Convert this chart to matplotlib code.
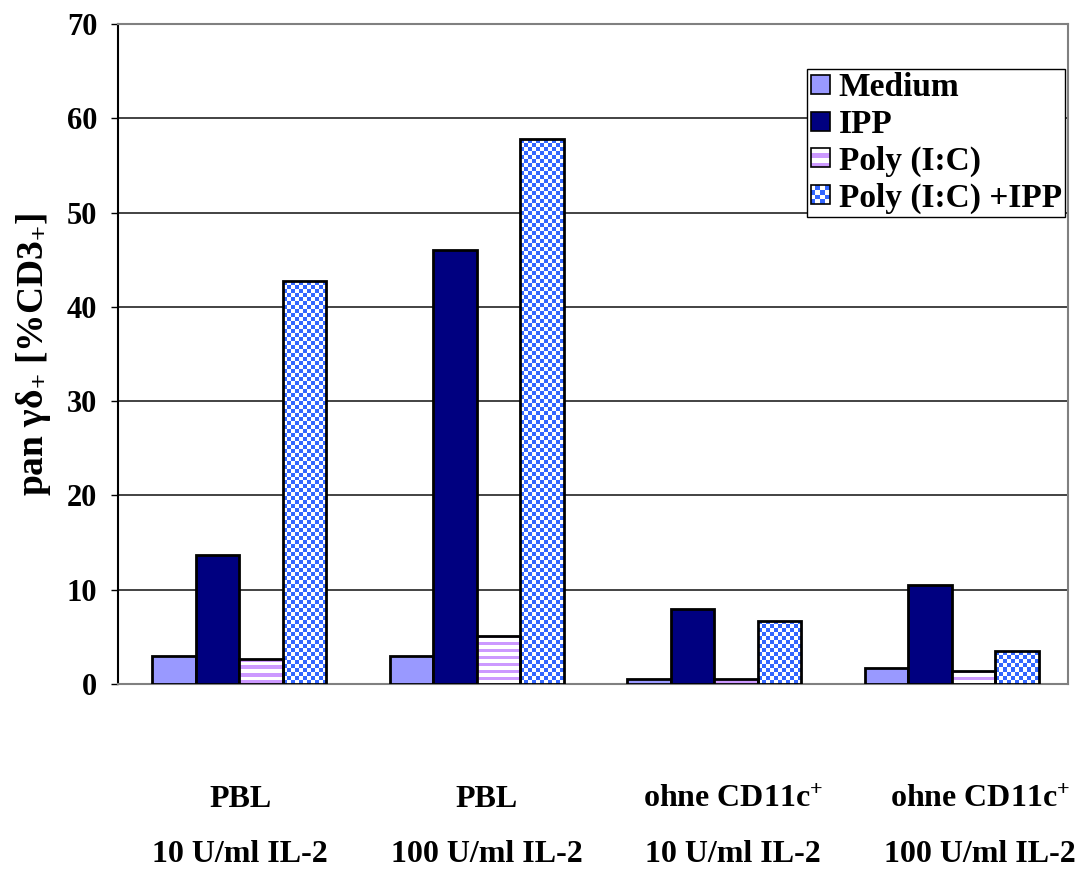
import numpy as np
import matplotlib
matplotlib.use("Agg")
import matplotlib.pyplot as plt
from matplotlib.patches import Rectangle, Patch
from matplotlib.legend_handler import HandlerBase
import matplotlib.transforms as mtransforms

plt.rcParams['font.family'] = ['Liberation Serif', 'DejaVu Serif']
plt.rcParams['font.weight'] = 'bold'
plt.rcParams['mathtext.fontset'] = 'custom'
plt.rcParams['mathtext.rm'] = 'Liberation Serif:bold'
plt.rcParams['mathtext.it'] = 'Liberation Serif:bold'
plt.rcParams['mathtext.bf'] = 'Liberation Serif:bold'
plt.rcParams['mathtext.default'] = 'rm'

# ---- data ----
cat_line1 = ['PBL', 'PBL', r'ohne CD11c$^{+}$', r'ohne CD11c$^{+}$']
cat_line2 = ['10 U/ml IL-2', '100 U/ml IL-2', '10 U/ml IL-2', '100 U/ml IL-2']
series = ['Medium', 'IPP', 'Poly (I:C)', 'Poly (I:C) +IPP']
medium = [3.0, 3.0, 0.5, 1.7]
ipp = [13.7, 46.0, 8.0, 10.5]
poly = [2.7, 5.1, 0.5, 1.4]
poly_ipp = [42.7, 57.8, 6.7, 3.5]
yticks = [0, 10, 20, 30, 40, 50, 60, 70]

values = [medium, ipp, poly, poly_ipp]
styles = ['solid_light', 'solid_dark', 'stripes', 'checker']
MED_C = '#9999ff'
IPP_C = '#000080'
POLY_C = '#cc99ff'
CHK_C = '#3366ff'

W, H = 1075, 869
fig = plt.figure(figsize=(W / 100, H / 100), dpi=100)
ax_l, ax_r, ax_t, ax_b = 118, 1068, 24, 684
ax = fig.add_axes([ax_l / W, (H - ax_b) / H, (ax_r - ax_l) / W, (ax_b - ax_t) / H])

n = len(cat_line1)
x = np.arange(n)
bw = 0.183
offsets = (np.arange(4) - 1.5) * bw + 0.01

px_per_unit = (ax_b - ax_t) / 70.0
px_per_x = (ax_r - ax_l) / 4.0


def pattern_image(kind, w_px, h_px):
    if kind == 'checker':
        cell = 4
        nr = max(1, int(round(h_px / cell)))
        nc = max(1, int(round(w_px / cell)))
        img = np.ones((nr, nc, 3))
        rgb = np.array(matplotlib.colors.to_rgb(CHK_C))
        rr, cc = np.indices((nr, nc))
        img[(rr + cc) % 2 == 0] = rgb
    else:
        rgb = np.array(matplotlib.colors.to_rgb(POLY_C))
        nr2 = max(1, int(round(h_px / 3.5)))
        img = np.ones((nr2, 1, 3))
        rr = np.arange(nr2)
        img[rr % 2 == 0, 0] = rgb
    return img


for si, (vals, st) in enumerate(zip(values, styles)):
    for ci in range(n):
        v = vals[ci]
        xc = x[ci] + offsets[si]
        if st == 'solid_light':
            ax.bar(xc, v, width=bw, color=MED_C, edgecolor='black', linewidth=2, zorder=3)
        elif st == 'solid_dark':
            ax.bar(xc, v, width=bw, color=IPP_C, edgecolor='black', linewidth=2, zorder=3)
        else:
            b = ax.bar(xc, v, width=bw, facecolor='none', edgecolor='black', linewidth=2, zorder=4)[0]
            img = pattern_image(st, bw * px_per_x, v * px_per_unit)
            im = ax.imshow(img, extent=(xc - bw / 2, xc + bw / 2, 0, v), origin='upper',
                           aspect='auto', interpolation='nearest', zorder=3)
            im.set_clip_path(b)

ax.set_xlim(-0.5, 3.5)
ax.set_ylim(0, 70)
ax.set_yticks(yticks)
ax.set_yticklabels([str(t) for t in yticks], fontsize=22, fontweight='bold')
ax.tick_params(axis='y', length=5, width=1, pad=10, direction='out')
ax.set_xticks([])
ax.yaxis.grid(True, color='#222222', linewidth=1.2, zorder=0)
ax.set_axisbelow(True)
ax.spines['left'].set_color('black')
ax.spines['left'].set_linewidth(1.5)
for s in ['right', 'bottom', 'top']:
    ax.spines[s].set_color('#808080')
    ax.spines[s].set_linewidth(1.5)

ax.set_ylabel(r'pan γδ$_{+}$ [%CD3$_{+}$]', fontsize=27, fontweight='bold', labelpad=10)

trans = mtransforms.blended_transform_factory(ax.transData, fig.transFigure)
label_x = x * 1.038 + 0.014
for ci in range(n):
    ax.text(label_x[ci], 1 - 807 / H, cat_line1[ci], transform=trans, ha='center', va='baseline',
            fontsize=23, fontweight='bold', clip_on=False)
    ax.text(label_x[ci], 1 - 862 / H, cat_line2[ci], transform=trans, ha='center', va='baseline',
            fontsize=23, fontweight='bold', clip_on=False)


class PatternHandler(HandlerBase):
    def __init__(self, kind):
        super().__init__()
        self.kind = kind

    def create_artists(self, legend, orig_handle, xdescent, ydescent, width, height, fontsize, trans):
        arts = []
        s = min(width, height)
        x0 = -xdescent + (width - s) / 2
        y0 = -ydescent + (height - s) / 2
        if self.kind == 'solid':
            arts.append(Rectangle((x0, y0), s, s, facecolor=orig_handle.get_facecolor(),
                                  edgecolor='black', linewidth=1.2, transform=trans))
        elif self.kind == 'stripes':
            arts.append(Rectangle((x0, y0), s, s, facecolor='white', edgecolor='none', transform=trans))
            k = 4
            for i in range(k):
                if i % 2 == 0:
                    arts.append(Rectangle((x0, y0 + i * s / k), s, s / k, facecolor=POLY_C,
                                          edgecolor='none', transform=trans))
            arts.append(Rectangle((x0, y0), s, s, facecolor='none', edgecolor='black',
                                  linewidth=1.2, transform=trans))
        else:
            k = 4
            arts.append(Rectangle((x0, y0), s, s, facecolor='white', edgecolor='none', transform=trans))
            for i in range(k):
                for j in range(k):
                    if (i + j) % 2 == 0:
                        arts.append(Rectangle((x0 + i * s / k, y0 + j * s / k), s / k, s / k,
                                              facecolor=CHK_C, edgecolor='none', transform=trans))
            arts.append(Rectangle((x0, y0), s, s, facecolor='none', edgecolor='black',
                                  linewidth=1.2, transform=trans))
        return arts


h_med = Patch(facecolor=MED_C)
h_ipp = Patch(facecolor=IPP_C)
h_poly = Patch(facecolor=POLY_C)
h_chk = Patch(facecolor=CHK_C)
leg = ax.legend([h_med, h_ipp, h_poly, h_chk], series, loc='upper right',
                bbox_to_anchor=((1065 - ax_l) / (ax_r - ax_l), (ax_b - 69) / (ax_b - ax_t)),
                borderaxespad=0,
                prop={'family': 'Liberation Serif', 'weight': 'bold', 'size': 24},
                handler_map={h_med: PatternHandler('solid'), h_ipp: PatternHandler('solid'),
                             h_poly: PatternHandler('stripes'), h_chk: PatternHandler('checker')},
                handlelength=0.6, handleheight=0.5, handletextpad=0.25, labelspacing=0.17,
                borderpad=0.1, frameon=True, fancybox=False, edgecolor='black', framealpha=1)
leg.get_frame().set_linewidth(1.0)
leg.set_zorder(10)

fig.savefig('out.png', dpi=100)
